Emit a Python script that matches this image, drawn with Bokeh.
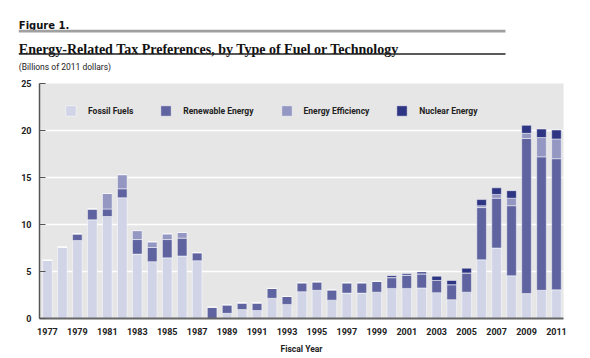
from bokeh.plotting import figure
from bokeh.layouts import column
from bokeh.models import ColumnDataSource, Range1d, FixedTicker
from bokeh.core.properties import value
from bokeh.embed import file_html
from bokeh.resources import INLINE

years = list(range(1977, 2012))
fossil = [6.2, 7.6, 8.3, 10.5, 10.85, 12.85, 6.85, 6.05, 6.45, 6.65, 6.15, 0.0, 0.55, 0.95, 0.85,
          2.15, 1.5, 2.85, 3.0, 1.95, 2.7, 2.7, 2.8, 3.2, 3.2, 3.25, 2.75, 2.0, 2.8, 6.25, 7.5,
          4.55, 2.65, 3.0, 3.05]
renewable = [0.0, 0.0, 0.7, 1.15, 0.8, 0.95, 1.55, 1.5, 1.95, 1.9, 0.85, 1.2, 0.9, 0.7, 0.8,
             1.05, 0.85, 0.95, 0.9, 1.1, 1.1, 1.1, 1.15, 1.15, 1.4, 1.5, 1.3, 1.6, 2.05, 5.55, 5.3,
             7.45, 16.5, 14.2, 13.95]
efficiency = [0, 0, 0, 0, 1.65, 1.5, 0.95, 0.6, 0.6, 0.6, 0, 0, 0, 0, 0,
              0, 0, 0, 0, 0, 0, 0, 0, 0, 0, 0, 0, 0, 0, 0.2, 0.4,
              0.8, 0.55, 2.05, 2.1]
nuclear = [0, 0, 0, 0, 0, 0, 0, 0, 0, 0, 0, 0, 0, 0, 0,
           0, 0, 0, 0, 0, 0, 0, 0, 0.2, 0.15, 0.2, 0.45, 0.45, 0.5, 0.65, 0.7,
           0.8, 0.85, 0.9, 0.95]
series = ["fossil", "renewable", "efficiency", "nuclear"]
series_names = ["Fossil Fuels", "Renewable Energy", "Energy Efficiency", "Nuclear Energy"]
colors = ["#d1d4e7", "#5f64a0", "#9397c2", "#2e3582"]
y_ticks = [0, 5, 10, 15, 20, 25]
x_ticks = list(range(1977, 2012, 2))

figure_label = "Figure 1."
title_text = "Energy-Related Tax Preferences, by Type of Fuel or Technology"
subtitle_text = "(Billions of 2011 dollars)"
x_axis_title = "Fiscal Year"

NARROW = "Liberation Sans Narrow, Roboto, sans-serif"

# ---------- header ----------
hdr = figure(width=580, height=75, output_backend="svg", toolbar_location=None,
             x_range=Range1d(0, 580), y_range=Range1d(75, 0),
             min_border=0, min_border_left=0, min_border_right=0, min_border_top=0, min_border_bottom=0)
hdr.frame_align = False
hdr.axis.visible = False
hdr.grid.visible = False
hdr.outline_line_color = None
hdr.text(x=[18.3], y=[25], text=[figure_label], text_font=value("DejaVu Sans"),
         text_font_style="bold", text_font_size="10px", text_color="#111", text_baseline="alphabetic")
hdr.segment(x0=[18.3], y0=[30.7], x1=[505], y1=[30.7], line_color="#a0a0a0", line_width=2.7)
hdr.text(x=[18.3], y=[48.5], text=[title_text], text_font=value("Liberation Serif"),
         text_font_style="bold", text_font_size="14px", text_color="#111", text_baseline="alphabetic")
hdr.segment(x0=[18.3], y0=[53.5], x1=[505], y1=[53.5], line_color="#222", line_width=1.3)
hdr.text(x=[18.3], y=[66.5], text=[subtitle_text], text_font=value(NARROW),
         text_font_size="8.5px", text_color="#222", text_baseline="alphabetic")

# ---------- chart ----------
p = figure(width=580, height=281, output_backend="svg", toolbar_location=None,
           x_range=Range1d(1976.47, 2011.47), y_range=Range1d(0, 25),
           min_border_left=39, min_border_right=17, min_border_top=8, min_border_bottom=37)
p.frame_align = False
p.background_fill_color = "#e6e6e6"
p.outline_line_color = None

src = ColumnDataSource(dict(year=years, fossil=fossil, renewable=renewable,
                            efficiency=efficiency, nuclear=nuclear))
p.vbar_stack(series, x="year", width=0.64, source=src, color=colors,
             line_color="white", line_width=0.6, line_alpha=0.8, legend_label=series_names)

p.xgrid.visible = False
p.ygrid.grid_line_color = "white"
p.ygrid.grid_line_width = 1.5
p.ygrid.ticker = FixedTicker(ticks=y_ticks)

p.yaxis.ticker = FixedTicker(ticks=y_ticks)
p.yaxis.axis_line_color = "#555"
p.yaxis.axis_line_width = 1.5
p.yaxis.major_tick_in = 6
p.yaxis.major_tick_out = 0
p.yaxis.major_tick_line_color = "#555"
p.yaxis.minor_tick_line_color = None
p.yaxis.major_label_standoff = 8
p.yaxis.major_label_text_font = NARROW
p.yaxis.major_label_text_font_style = "bold"
p.yaxis.major_label_text_font_size = "9px"
p.yaxis.major_label_text_color = "#222"

p.xaxis.ticker = FixedTicker(ticks=x_ticks)
p.xaxis.axis_line_color = "#666"
p.xaxis.axis_line_width = 2
p.xaxis.major_tick_line_color = None
p.xaxis.minor_tick_line_color = None
p.xaxis.major_tick_in = 0
p.xaxis.major_tick_out = 0
p.xaxis.major_label_standoff = 9
p.xaxis.major_label_text_font = NARROW
p.xaxis.major_label_text_font_style = "bold"
p.xaxis.major_label_text_font_size = "9px"
p.xaxis.major_label_text_color = "#222"
p.xaxis.axis_label = x_axis_title
p.xaxis.axis_label_text_font = NARROW
p.xaxis.axis_label_text_font_style = "bold"
p.xaxis.axis_label_text_font_size = "8.5px"
p.xaxis.axis_label_text_color = "#222"
p.xaxis.axis_label_standoff = 6

lg = p.legend[0]
lg.orientation = "horizontal"
lg.location = (25, 201)
lg.background_fill_alpha = 0
lg.border_line_alpha = 0
lg.glyph_width = 13
lg.glyph_height = 13
lg.label_standoff = 11
lg.spacing = 26
lg.padding = 0
lg.margin = 0
lg.label_text_font = NARROW
lg.label_text_font_style = "bold"
lg.label_text_font_size = "8.5px"
lg.label_text_color = "#222"
lg.label_height = 13

layout = column(hdr, p, spacing=0)
open("out.html", "w").write(file_html(layout, INLINE))
